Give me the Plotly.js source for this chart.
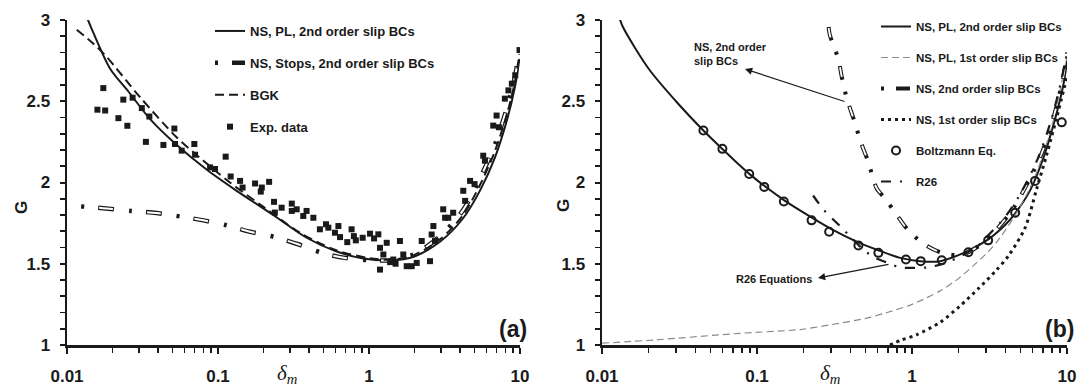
<!DOCTYPE html>
<html>
<head>
<meta charset="utf-8">
<script src="https://cdn.plot.ly/plotly-3.0.1.min.js"></script>
<style>html,body{margin:0;padding:0;background:#fff;}#chart{width:1084px;height:388px;}</style>
</head>
<body>
<div id="chart"></div>
<script>
// ---------- Panel (a) data ----------
const aSolidX = [0.0135, 0.0145, 0.0193, 0.0255, 0.0355, 0.052, 0.084, 0.13, 0.232, 0.386, 0.611, 0.916, 1.38, 2.0, 2.95, 4.2, 5.43, 6.83, 8.17, 9.27, 9.9];
const aSolidG = [3.02, 2.95, 2.70, 2.56, 2.39, 2.24, 2.08, 1.955, 1.80, 1.66, 1.575, 1.532, 1.52, 1.545, 1.635, 1.78, 1.95, 2.155, 2.38, 2.59, 2.76];

const aStopsX = [0.0124, 0.0174, 0.0265, 0.0393, 0.08, 0.114, 0.163, 0.238, 0.34, 0.486, 0.693, 1.0, 1.4, 2.0, 3.0, 4.2, 5.4, 6.8, 8.2, 9.3, 9.9];
const aStopsG = [1.853, 1.842, 1.825, 1.812, 1.767, 1.737, 1.697, 1.664, 1.62, 1.567, 1.536, 1.522, 1.522, 1.56, 1.675, 1.83, 2.02, 2.23, 2.46, 2.66, 2.82];

const aBgkX = [0.0116, 0.0149, 0.0183, 0.0304, 0.0532, 0.08, 0.12, 0.2, 0.35, 0.6, 1.0, 1.4, 2.0, 3.0, 4.2, 5.4, 6.8, 8.2, 9.3, 9.9];
const aBgkG = [2.94, 2.856, 2.773, 2.526, 2.278, 2.134, 2.0, 1.85, 1.69, 1.585, 1.535, 1.525, 1.555, 1.655, 1.80, 1.98, 2.19, 2.42, 2.63, 2.79];

const expX = [0.0159, 0.0174, 0.0179, 0.0219, 0.0236, 0.0251, 0.0272, 0.0313, 0.0333, 0.0351, 0.0435, 0.0514, 0.0519, 0.0575, 0.0697, 0.0705, 0.0886, 0.0955, 0.1124, 0.1213, 0.140, 0.1455, 0.176, 0.192, 0.195, 0.218, 0.235, 0.238, 0.264, 0.308, 0.308, 0.332, 0.367, 0.386, 0.428, 0.473, 0.519, 0.538, 0.595, 0.627, 0.643, 0.718, 0.767, 0.794, 0.818, 0.908, 1.016, 1.08, 1.153, 1.183, 1.183, 1.245, 1.31, 1.38, 1.449, 1.5, 1.603, 1.687, 1.777, 1.918, 2.07, 2.234, 2.535, 2.60, 2.67, 2.735, 3.10, 3.19, 3.35, 3.61, 4.21, 4.33, 4.67, 5.00, 5.71, 5.86, 6.65, 7.00, 7.25, 7.94, 8.38, 8.83, 9.30, 9.93];
const expG = [2.448, 2.581, 2.443, 2.396, 2.510, 2.349, 2.522, 2.458, 2.250, 2.406, 2.231, 2.332, 2.237, 2.196, 2.237, 2.171, 2.093, 2.083, 2.159, 2.037, 2.010, 1.969, 1.994, 1.944, 1.969, 2.004, 1.881, 1.815, 1.845, 1.870, 1.825, 1.835, 1.794, 1.825, 1.783, 1.712, 1.743, 1.722, 1.691, 1.732, 1.664, 1.633, 1.712, 1.670, 1.644, 1.660, 1.685, 1.656, 1.681, 1.464, 1.598, 1.557, 1.629, 1.510, 1.526, 1.500, 1.640, 1.557, 1.485, 1.485, 1.505, 1.640, 1.516, 1.680, 1.732, 1.640, 1.835, 1.783, 1.783, 1.814, 1.949, 1.887, 2.010, 1.990, 2.165, 2.134, 2.350, 2.412, 2.340, 2.516, 2.567, 2.608, 2.660, 2.815];

// ---------- Panel (b) data ----------
const bSolidX = [0.0128, 0.0136, 0.02, 0.03, 0.0451, 0.06, 0.09, 0.15, 0.225, 0.3, 0.45, 0.6, 0.84, 1.13, 1.52, 2.25, 3.05, 4.0, 4.63, 5.77, 7.03, 8.37, 9.47, 10];
const bSolidG = [3.03, 2.96, 2.70, 2.50, 2.32, 2.205, 2.05, 1.89, 1.785, 1.715, 1.632, 1.585, 1.536, 1.516, 1.516, 1.575, 1.645, 1.74, 1.81, 1.95, 2.15, 2.39, 2.6, 2.75];

const bPL1X = [0.01, 0.0225, 0.0776, 0.189, 0.296, 0.51, 0.69, 1.0, 1.5, 2.0, 2.5, 3.0, 3.5, 4.5, 6, 8, 10];
const bPL1G = [1.011, 1.032, 1.072, 1.095, 1.124, 1.165, 1.2, 1.25, 1.33, 1.41, 1.49, 1.56, 1.63, 1.78, 2.0, 2.35, 2.78];

const bNS2X = [0.285, 0.294, 0.335, 0.352, 0.381, 0.423, 0.469, 0.52, 0.591, 0.672, 0.778, 0.934, 1.18, 1.58, 2.09, 2.75, 3.5, 4.5, 5.8, 7.0, 8.4, 9.5, 10];
const bNS2G = [3.05, 2.915, 2.759, 2.652, 2.512, 2.383, 2.244, 2.132, 1.965, 1.90, 1.815, 1.712, 1.625, 1.565, 1.555, 1.615, 1.71, 1.84, 2.03, 2.2, 2.44, 2.66, 2.8];

const bNS1X = [0.72, 0.85, 1.07, 1.52, 2.04, 2.7, 3.5, 4.2, 5.36, 6.37, 7.39, 8.58, 10];
const bNS1G = [1.0, 1.03, 1.063, 1.14, 1.24, 1.35, 1.46, 1.55, 1.72, 1.96, 2.17, 2.40, 2.65];

const boltzX = [0.0451, 0.0598, 0.0891, 0.1114, 0.149, 0.225, 0.292, 0.451, 0.607, 0.914, 1.138, 1.555, 2.31, 3.1, 4.63, 6.22, 9.25];
const boltzG = [2.32, 2.207, 2.052, 1.973, 1.883, 1.767, 1.697, 1.613, 1.567, 1.526, 1.516, 1.522, 1.571, 1.644, 1.814, 2.01, 2.37];

const r26X = [0.23, 0.268, 0.36, 0.484, 0.577, 0.70, 0.84, 1.05, 1.27, 1.59, 2.1, 2.65, 3.0, 4.0, 5.0, 6.5, 8.0, 9.3, 10];
const r26G = [1.92, 1.835, 1.712, 1.588, 1.536, 1.505, 1.478, 1.474, 1.478, 1.50, 1.55, 1.61, 1.66, 1.79, 1.93, 2.15, 2.40, 2.65, 2.8];

// ---------- ticks ----------
const xTickVals = [0.01, 0.1, 1, 10];
const xTickText = ['0.01', '0.1', '1', '10'];
const yTickVals = [1, 1.5, 2, 2.5, 3];
const yTickText = ['1', '1.5', '2', '2.5', '3'];
const xMinorVals = [];
for (const d of [0.01, 0.1, 1]) for (let k = 2; k <= 9; k++) xMinorVals.push(+(d * k).toPrecision(3));

const FONT = 'Liberation Sans, Arial, sans-serif';
const INK = '#1a1a1a';

const traces = [
  {x: aSolidX, y: aSolidG, xaxis: 'x', yaxis: 'y', mode: 'lines', name: 'NS, PL, 2nd order slip BCs',
   line: {color: INK, width: 2, shape: 'spline', smoothing: 0.8}, legend: 'legend', legendgroup: 'a1'},
  {x: aStopsX, y: aStopsG, xaxis: 'x', yaxis: 'y', mode: 'lines', name: 'NS, Stops, 2nd order slip BCs',
   line: {color: INK, width: 4.5, shape: 'spline', smoothing: 0.8, dash: '3px,14px,16px,15px'}, legend: 'legend', legendgroup: 'a2'},
  {x: aStopsX, y: aStopsG, xaxis: 'x', yaxis: 'y', mode: 'lines', showlegend: false, hoverinfo: 'skip',
   line: {color: '#fff', width: 2, shape: 'spline', smoothing: 0.8, dash: '0px,18px,14px,16px'}},
  {x: aBgkX, y: aBgkG, xaxis: 'x', yaxis: 'y', mode: 'lines', name: 'BGK',
   line: {color: INK, width: 2, shape: 'spline', smoothing: 0.8, dash: '9px,5px'}, legend: 'legend', legendgroup: 'a3'},
  {x: expX, y: expG, xaxis: 'x', yaxis: 'y', mode: 'markers', name: 'Exp. data',
   marker: {symbol: 'square', size: 6, color: INK}, legend: 'legend', legendgroup: 'a4'},

  {x: bSolidX, y: bSolidG, xaxis: 'x2', yaxis: 'y2', mode: 'lines', name: 'NS, PL, 2nd order slip BCs',
   line: {color: INK, width: 2, shape: 'spline', smoothing: 0.8}, legend: 'legend2', legendgroup: 'b1'},
  {x: bPL1X, y: bPL1G, xaxis: 'x2', yaxis: 'y2', mode: 'lines', name: 'NS, PL, 1st order slip BCs',
   line: {color: '#8a8a8a', width: 1.2, shape: 'spline', smoothing: 0.8, dash: '7px,4px'}, legend: 'legend2', legendgroup: 'b2'},
  {x: bNS2X, y: bNS2G, xaxis: 'x2', yaxis: 'y2', mode: 'lines', name: 'NS, 2nd order slip BCs',
   line: {color: INK, width: 4, shape: 'spline', smoothing: 0.8, dash: '3px,12px,14px,12px'}, legend: 'legend2', legendgroup: 'b3'},
  {x: bNS2X, y: bNS2G, xaxis: 'x2', yaxis: 'y2', mode: 'lines', showlegend: false, hoverinfo: 'skip',
   line: {color: '#fff', width: 1.8, shape: 'spline', smoothing: 0.8, dash: '0px,16px,10px,15px'}},
  {x: bNS1X, y: bNS1G, xaxis: 'x2', yaxis: 'y2', mode: 'lines', name: 'NS, 1st order slip BCs',
   line: {color: INK, width: 3, shape: 'spline', smoothing: 0.8, dash: '3px,4px'}, legend: 'legend2', legendgroup: 'b4'},
  {x: boltzX, y: boltzG, xaxis: 'x2', yaxis: 'y2', mode: 'markers', name: 'Boltzmann Eq.',
   marker: {symbol: 'circle-open', size: 8, color: INK, line: {width: 2, color: INK}}, legend: 'legend2', legendgroup: 'b5'},
  {x: r26X, y: r26G, xaxis: 'x2', yaxis: 'y2', mode: 'lines', name: 'R26',
   line: {color: INK, width: 2.2, shape: 'spline', smoothing: 0.8, dash: '10px,9px,2px,9px'}, legend: 'legend2', legendgroup: 'b6'}
];

const H = 388, W = 1084;
const py = p => 1 - p / H;
const pxf = p => p / W;

function xAxis(domain, anchor) {
  return {
    type: 'log', range: [-2, 1], domain: domain, anchor: anchor,
    showline: true, linecolor: INK, linewidth: 2.5, mirror: false,
    ticks: 'outside', ticklen: 6, tickwidth: 2, tickcolor: INK,
    tickmode: 'array', tickvals: xTickVals, ticktext: xTickText,
    tickfont: {family: FONT, size: 17, weight: 700, color: INK},
    ticklabelstandoff: 8,
    minor: {tickmode: 'array', tickvals: xMinorVals, ticks: 'outside', ticklen: 5, tickwidth: 1.6, tickcolor: INK, showgrid: false},
    showgrid: false, zeroline: false
  };
}
function yAxis(anchor) {
  return {
    range: [1, 3], domain: [py(345), py(20)], anchor: anchor,
    showline: true, linecolor: INK, linewidth: 2.5, mirror: false,
    ticks: 'outside', ticklen: 5, tickwidth: 2, tickcolor: INK,
    tickmode: 'array', tickvals: yTickVals, ticktext: yTickText,
    tickfont: {family: FONT, size: 17, weight: 700, color: INK},
    ticklabelstandoff: 6,
    minor: {dtick: 0.1, ticks: 'outside', ticklen: 5, tickwidth: 1.6, tickcolor: INK, showgrid: false},
    showgrid: false, zeroline: false
  };
}

// right-panel pixel helpers for annotation placement (layout positions only)
const bxPix = p => (p - 602) / 155 - 2;           // log10 value for x2
const byPix = p => 3 - (p - 20) / 162.5;          // G value for y2

const annFont = {family: FONT, size: 11, weight: 700, color: INK};
const layout = {
  width: W, height: H,
  margin: {l: 0, r: 0, t: 0, b: 0},
  paper_bgcolor: '#fff', plot_bgcolor: 'rgba(0,0,0,0)',
  font: {family: FONT, color: INK},
  xaxis: xAxis([pxf(67), pxf(520)], 'y'),
  yaxis: yAxis('x'),
  xaxis2: xAxis([pxf(602), pxf(1067)], 'y2'),
  yaxis2: yAxis('x2'),
  legend: {x: pxf(210), xanchor: 'left', y: py(16), yanchor: 'top', bgcolor: 'rgba(0,0,0,0)',
           font: {family: FONT, size: 13, weight: 700, color: INK}, tracegroupgap: 12, itemwidth: 30},
  legend2: {x: pxf(876), xanchor: 'left', y: py(12), yanchor: 'top', bgcolor: 'rgba(0,0,0,0)',
            font: {family: FONT, size: 11.5, weight: 700, color: INK}, tracegroupgap: 12, itemwidth: 30},
  annotations: [
    {xref: 'paper', yref: 'paper', x: pxf(287), y: py(374), text: '<i>δ<sub>m</sub></i>', showarrow: false,
     font: {family: 'Liberation Serif, Times New Roman, serif', size: 21, color: INK}, xanchor: 'center', yanchor: 'middle'},
    {xref: 'paper', yref: 'paper', x: pxf(830), y: py(374), text: '<i>δ<sub>m</sub></i>', showarrow: false,
     font: {family: 'Liberation Serif, Times New Roman, serif', size: 21, color: INK}, xanchor: 'center', yanchor: 'middle'},
    {xref: 'paper', yref: 'paper', x: pxf(21), y: py(208), text: 'G', textangle: -90, showarrow: false,
     font: {family: FONT, size: 17, weight: 700, color: INK}, xanchor: 'center', yanchor: 'middle'},
    {xref: 'paper', yref: 'paper', x: pxf(563), y: py(206), text: 'G', textangle: -90, showarrow: false,
     font: {family: FONT, size: 17, weight: 700, color: INK}, xanchor: 'center', yanchor: 'middle'},
    {xref: 'paper', yref: 'paper', x: pxf(529), y: py(329), text: '(a)', showarrow: false,
     font: {family: FONT, size: 23, weight: 700, color: INK}, xanchor: 'right', yanchor: 'middle'},
    {xref: 'paper', yref: 'paper', x: pxf(1076), y: py(329), text: '(b)', showarrow: false,
     font: {family: FONT, size: 23, weight: 700, color: INK}, xanchor: 'right', yanchor: 'middle'},
    // NS, 2nd order slip BCs label + arrow
    {xref: 'x2', yref: 'y2', x: bxPix(692), y: byPix(54), text: 'NS, 2nd order<br>slip BCs', showarrow: false,
     font: annFont, xanchor: 'left', yanchor: 'middle', align: 'left'},
    {xref: 'x2', yref: 'y2', x: bxPix(745), y: byPix(69), axref: 'x2', ayref: 'y2', ax: bxPix(846), ay: byPix(102),
     text: '', showarrow: true, arrowhead: 2, arrowsize: 1.2, arrowwidth: 1.2, arrowcolor: INK, standoff: 0, startstandoff: 0},
    // R26 Equations label + arrow
    {xref: 'x2', yref: 'y2', x: bxPix(814), y: byPix(279), text: 'R26 Equations', showarrow: false,
     font: annFont, xanchor: 'right', yanchor: 'middle'},
    {xref: 'x2', yref: 'y2', x: bxPix(818), y: byPix(278), axref: 'x2', ayref: 'y2', ax: bxPix(890), ay: byPix(264),
     text: '', showarrow: true, arrowhead: 2, arrowsize: 1.2, arrowwidth: 1.2, arrowcolor: INK, standoff: 0, startstandoff: 0}
  ]
};

Plotly.newPlot('chart', traces, layout, {staticPlot: true, displayModeBar: false});
</script>
</body>
</html>
